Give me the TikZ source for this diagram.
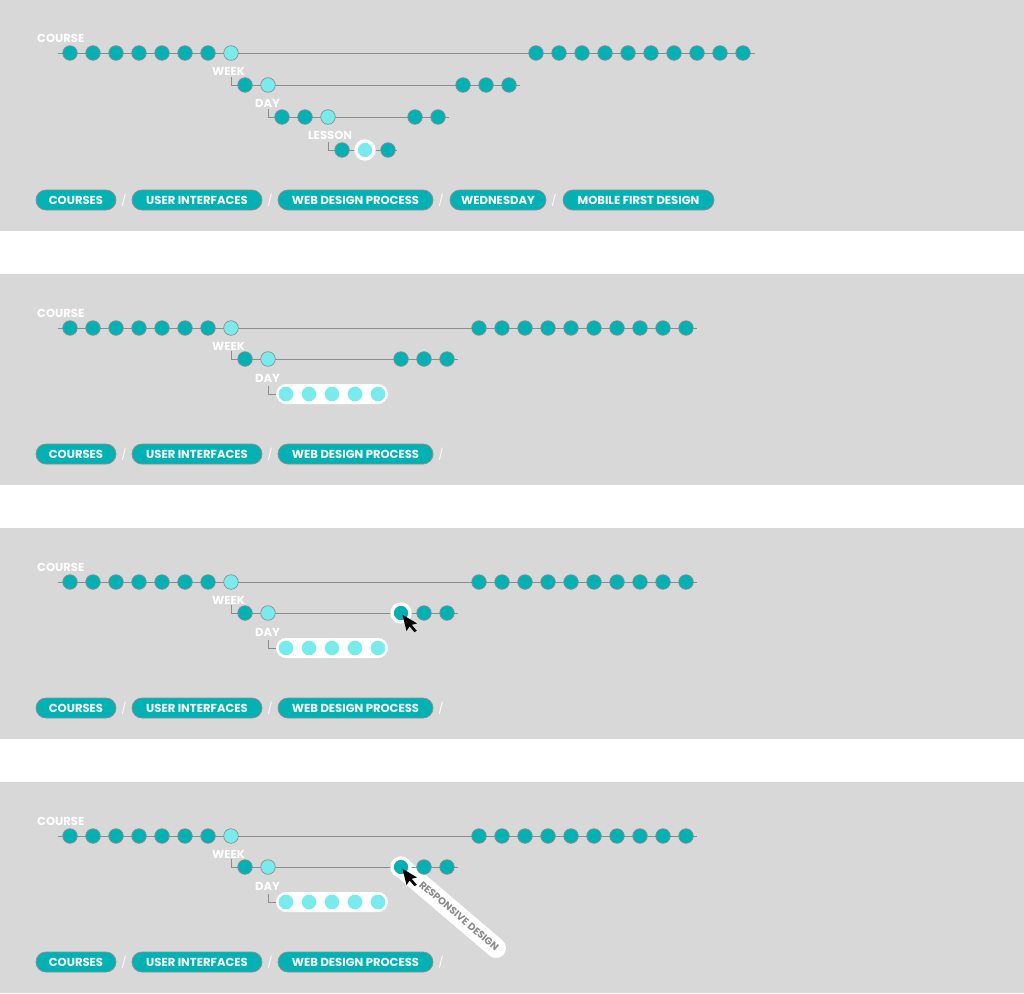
\documentclass[tikz,border=0pt]{standalone}
\usepackage{fontspec}
\newfontfamily\uif{Poppins}
\definecolor{bgc}{HTML}{D8D8D8}
\definecolor{tealc}{HTML}{00B2B4}
\definecolor{lightc}{HTML}{78ECEC}
\definecolor{dotline}{HTML}{8E8E8E}
\definecolor{rowline}{HTML}{8C8C8C}
\definecolor{txtgray}{HTML}{8A8A8A}
\pgfdeclarelayer{bglayer}
\pgfdeclarelayer{midlayer}
\pgfsetlayers{bglayer,midlayer,main}
\begin{document}
\begin{tikzpicture}[x=1pt,y=-1pt,
 dotn/.style={circle, minimum size=14.6pt, inner sep=0pt, fill=tealc, draw=dotline, line width=0.7pt},
 ldot/.style={dotn, fill=lightc},
 pdot/.style={circle, minimum size=14.6pt, inner sep=0pt, fill=lightc},
 pdott/.style={circle, minimum size=14.6pt, inner sep=0pt, fill=tealc},
 rl/.style={draw=rowline, line width=0.9pt},
 lbl/.style={font=\uif\bfseries\fontsize{11.6}{12}\selectfont, text=white, inner sep=0pt, anchor=west},
 crumb/.style={rectangle, rounded corners=10pt, minimum height=20pt, fill=tealc, draw=dotline, line width=0.8pt, text=white, font=\uif\bfseries\fontsize{11.6}{12}\selectfont, inner sep=0pt},
 slash/.style={text=white, font=\uif\fontsize{11}{12}\selectfont, inner sep=0pt},
 ring/.style={draw=white, line width=3.4pt},
 wpill/.style={draw=white, line width=20pt, line cap=round},
 daypill/.style={fill=white, rounded corners=10pt},
 cursorfill/.style={fill=black},
 tiplabel/.style={font=\uif\bfseries\fontsize{10}{10}\selectfont, text=txtgray, inner sep=0pt},
]
\useasboundingbox (0,0) rectangle (1024,993);
\begin{pgfonlayer}{bglayer}
\fill[white] (0,0) rectangle (1024,993);
\fill[bgc] (0,0) rectangle (1024,231);
\foreach \o in {274,528,782} \fill[bgc] (0,\o) rectangle (1024,\o+211);
\end{pgfonlayer}

% ===== Panel 1 =====
\coordinate (a1s) at (58,53); \coordinate (a1e) at (755,53);
\draw[rl] (a1s) -- (a1e);
\coordinate (a1wt) at (231,77); \coordinate (a1we) at (520,85);
\draw[rl] (a1wt) |- (a1we);
\coordinate (a1dt) at (268,109); \coordinate (a1de) at (449,117);
\draw[rl] (a1dt) |- (a1de);
\coordinate (a1lt) at (328,142); \coordinate (a1le) at (397,150);
\draw[rl] (a1lt) |- (a1le);

\foreach \i in {0,...,6} \node[dotn] (a1c\i) at (70+23*\i,53) {};
\node[ldot] (a1cx) at (231,53) {};
\foreach \i in {0,...,9} \node[dotn] (a1r\i) at (536+23*\i,53) {};

\node[dotn] (a1w0) at (245,85) {};
\node[ldot] (a1w1) at (268,85) {};
\foreach \i in {0,1,2} \node[dotn] (a1wr\i) at (463+23*\i,85) {};

\node[dotn] (a1d0) at (282,117) {};
\node[dotn] (a1d1) at (305,117) {};
\node[ldot] (a1d2) at (328,117) {};
\foreach \i in {0,1} \node[dotn] (a1dr\i) at (415+23*\i,117) {};

\node[dotn] (a1l0) at (342,150) {};
\node[pdot] (a1l1) at (365,150) {};
\draw[ring] (a1l1.center) circle[radius=9pt];
\node[dotn] (a1l2) at (388,150) {};

\node[lbl] (a1lc) at (37,38) {COURSE};
\node[lbl] (a1lw) at (212,71) {WEEK};
\node[lbl] (a1ld) at (255,103) {DAY};
\node[lbl] (a1ll) at (308,135) {LESSON};

\node[crumb, minimum width=80pt] (b1a) at (76,200) {COURSES};
\node[slash] (s1a) at (124,200) {/};
\node[crumb, minimum width=130pt] (b1b) at (197,200) {USER INTERFACES};
\node[slash] (s1b) at (270,200) {/};
\node[crumb, minimum width=155pt] (b1c) at (355.5,200) {WEB DESIGN PROCESS};
\node[slash] (s1c) at (441,200) {/};
\node[crumb, minimum width=96pt] (b1d) at (498,200) {WEDNESDAY};
\node[slash] (s1d) at (554,200) {/};
\node[crumb, minimum width=151pt] (b1e) at (638.5,200) {MOBILE FIRST DESIGN};

% ===== Panels 2-4 =====
\foreach \k/\o in {2/274,3/528,4/782}{
\begin{scope}[shift={(0,\o)}]
\coordinate (s\k) at (58,54); \coordinate (e\k) at (697,54);
\draw[rl] (s\k) -- (e\k);
\coordinate (wt\k) at (231,77); \coordinate (we\k) at (458,85);
\draw[rl] (wt\k) |- (we\k);
\coordinate (dt\k) at (268,112);
\fill[daypill] (276,110) rectangle (388,130);
\node[inner sep=0pt, minimum width=0pt, minimum height=20pt] (dp\k) at (276,120) {};
\draw[rl] (dt\k) |- (dp\k.center);

\foreach \i in {0,...,6} \node[dotn] (c\k-\i) at (70+23*\i,54) {};
\node[ldot] (cx\k) at (231,54) {};
\foreach \i in {0,...,9} \node[dotn] (r\k-\i) at (479+23*\i,54) {};

\node[dotn] (w\k-0) at (245,85) {};
\node[ldot] (w\k-1) at (268,85) {};
\foreach \i in {0,1,2} \node[dotn] (wr\k-\i) at (401+23*\i,85) {};

\foreach \i in {0,...,4} \node[pdot] (d\k-\i) at (286+23*\i,120) {};

\node[lbl] (lc\k) at (37,39) {COURSE};
\node[lbl] (lw\k) at (212,72) {WEEK};
\node[lbl] (ld\k) at (255,104) {DAY};

\node[crumb, minimum width=80pt] (ba\k) at (76,180) {COURSES};
\node[slash] (sa\k) at (124,180) {/};
\node[crumb, minimum width=130pt] (bb\k) at (197,180) {USER INTERFACES};
\node[slash] (sb\k) at (270,180) {/};
\node[crumb, minimum width=155pt] (bc\k) at (355.5,180) {WEB DESIGN PROCESS};
\node[slash] (sc\k) at (441,180) {/};
\end{scope}
}

% ===== Panel 3/4 overlays =====
\begin{pgfonlayer}{midlayer}
\coordinate (pe4) at (496,948);
\draw[wpill] (wr4-0.center) -- (pe4);
\end{pgfonlayer}
\foreach \k in {3,4}{
\node[pdott] (sel\k) at (wr\k-0.center) {};
\draw[ring] (sel\k.center) circle[radius=9pt];
\begin{scope}[shift={(sel\k.center)}, rotate=14]
\fill[cursorfill] (1,2) -- (1,19) -- (5,15) -- (8.5,22) -- (11,21) -- (7.5,14) -- (13,14) -- cycle;
\end{scope}
}
\node[tiplabel, rotate=-40.4] (tip4) at (459,916) {RESPONSIVE DESIGN};
\end{tikzpicture}
\end{document}
